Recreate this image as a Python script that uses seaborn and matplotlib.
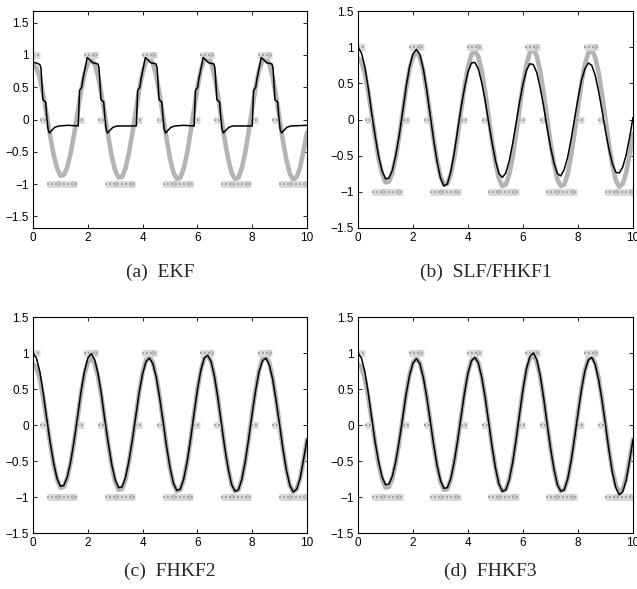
import matplotlib
matplotlib.use("Agg")
import matplotlib.pyplot as plt
import pandas as pd
import seaborn as sns

sns.set_theme(style="ticks")
plt.rcParams["font.family"] = ["Liberation Sans", "DejaVu Sans"]
plt.rcParams["axes.edgecolor"] = "black"
plt.rcParams["axes.linewidth"] = 0.8

# sample times for the smooth curves
T_GRID = [0.0, 0.125, 0.25, 0.375, 0.5, 0.625, 0.75, 0.875, 1.0, 1.125, 1.25, 1.375, 1.5,
          1.625, 1.75, 1.875, 2.0, 2.125, 2.25, 2.375, 2.5, 2.625, 2.75, 2.875, 3.0, 3.125,
          3.25, 3.375, 3.5, 3.625, 3.75, 3.875, 4.0, 4.125, 4.25, 4.375, 4.5, 4.625, 4.75,
          4.875, 5.0, 5.125, 5.25, 5.375, 5.5, 5.625, 5.75, 5.875, 6.0, 6.125, 6.25, 6.375,
          6.5, 6.625, 6.75, 6.875, 7.0, 7.125, 7.25, 7.375, 7.5, 7.625, 7.75, 7.875, 8.0,
          8.125, 8.25, 8.375, 8.5, 8.625, 8.75, 8.875, 9.0, 9.125, 9.25, 9.375, 9.5, 9.625,
          9.75, 9.875, 10.0]

# true state (thick grey line)
TRUE_Y = [0.85, 0.80, 0.64, 0.38, 0.07,
          -0.25, -0.54, -0.75, -0.87, -0.86, -0.74, -0.52, -0.23,
          0.10, 0.43, 0.70, 0.87, 0.93, 0.86, 0.67, 0.39, 0.06,
          -0.27, -0.57, -0.79, -0.90, -0.89, -0.76, -0.52, -0.22,
          0.12, 0.46, 0.73, 0.90, 0.95, 0.87, 0.67, 0.38, 0.04,
          -0.30, -0.60, -0.82, -0.92, -0.90, -0.76, -0.52, -0.20,
          0.15, 0.49, 0.76, 0.93, 0.97, 0.88, 0.67, 0.37, 0.02,
          -0.32, -0.61, -0.83, -0.92, -0.90, -0.75, -0.50, -0.18,
          0.17, 0.50, 0.76, 0.92, 0.96, 0.86, 0.65, 0.35, 0.00,
          -0.34, -0.63, -0.84, -0.93, -0.89, -0.74, -0.48, -0.20]

# estimates
SLF_Y = [1.00, 0.92, 0.73, 0.43, 0.08,
         -0.23, -0.51, -0.71, -0.82, -0.81, -0.70, -0.49, -0.22,
         0.11, 0.45, 0.73, 0.91, 0.97, 0.90, 0.70, 0.41, 0.06,
         -0.28, -0.58, -0.81, -0.92, -0.89, -0.72, -0.46, -0.14,
         0.17, 0.44, 0.66, 0.78, 0.79, 0.70, 0.51, 0.26, -0.04,
         -0.32, -0.57, -0.75, -0.80, -0.74, -0.57, -0.33, -0.05,
         0.24, 0.49, 0.68, 0.77, 0.76, 0.65, 0.44, 0.18, -0.11,
         -0.38, -0.60, -0.75, -0.78, -0.69, -0.52, -0.27, 0.01,
         0.29, 0.54, 0.70, 0.78, 0.75, 0.61, 0.39, 0.12, -0.16,
         -0.41, -0.61, -0.73, -0.74, -0.66, -0.49, -0.25, 0.03]

FHKF2_Y = [1.00, 0.93, 0.74, 0.44, 0.09,
           -0.24, -0.52, -0.74, -0.85, -0.84, -0.72, -0.51, -0.22,
           0.11, 0.46, 0.74, 0.93, 0.99, 0.91, 0.71, 0.42, 0.06,
           -0.26, -0.55, -0.76, -0.87, -0.86, -0.73, -0.50, -0.21,
           0.12, 0.45, 0.71, 0.88, 0.93, 0.85, 0.66, 0.37, 0.04,
           -0.30, -0.59, -0.81, -0.91, -0.89, -0.75, -0.51, -0.20,
           0.15, 0.49, 0.76, 0.93, 0.97, 0.88, 0.67, 0.37, 0.02,
           -0.32, -0.61, -0.83, -0.92, -0.90, -0.75, -0.50, -0.18,
           0.16, 0.48, 0.74, 0.89, 0.93, 0.83, 0.63, 0.33, 0.00,
           -0.34, -0.63, -0.84, -0.93, -0.89, -0.74, -0.48, -0.20]

FHKF3_Y = [1.00, 0.93, 0.74, 0.44, 0.09,
           -0.24, -0.51, -0.72, -0.83, -0.82, -0.71, -0.50, -0.22,
           0.10, 0.43, 0.69, 0.86, 0.92, 0.85, 0.66, 0.39, 0.06,
           -0.27, -0.56, -0.77, -0.88, -0.87, -0.74, -0.51, -0.21,
           0.12, 0.45, 0.72, 0.89, 0.94, 0.86, 0.66, 0.38, 0.04,
           -0.30, -0.60, -0.82, -0.92, -0.90, -0.76, -0.52, -0.20,
           0.15, 0.50, 0.78, 0.95, 1.00, 0.91, 0.69, 0.38, 0.02,
           -0.32, -0.61, -0.83, -0.92, -0.90, -0.75, -0.50, -0.18,
           0.16, 0.49, 0.75, 0.90, 0.94, 0.84, 0.63, 0.34, 0.00,
           -0.35, -0.66, -0.87, -0.97, -0.93, -0.77, -0.50, -0.20]

# EKF estimate is stair-like, so it has its own breakpoints
EKF_T = [0.0, 0.10, 0.20, 0.25, 0.29, 0.36, 0.46, 0.50, 0.55, 0.60, 0.68, 0.80, 0.95, 1.30,
         1.65, 1.70, 1.78, 1.82, 1.98, 2.06, 2.17, 2.37, 2.41, 2.48, 2.58, 2.62, 2.67, 2.72,
         2.80, 2.92, 3.07, 3.40,
         3.77, 3.82, 3.90, 3.94, 4.10, 4.18, 4.29, 4.49, 4.53, 4.60, 4.70, 4.74, 4.79, 4.84,
         4.92, 5.04, 5.19, 5.50,
         5.88, 5.93, 6.01, 6.05, 6.21, 6.29, 6.40, 6.60, 6.64, 6.71, 6.81, 6.85, 6.90, 6.95,
         7.03, 7.15, 7.30, 7.60,
         8.00, 8.05, 8.13, 8.17, 8.33, 8.41, 8.52, 8.72, 8.76, 8.83, 8.93, 8.97, 9.02, 9.07,
         9.15, 9.27, 9.42, 10.0]
EKF_Y = [0.88, 0.88, 0.86, 0.85, 0.80, 0.31, 0.27, 0.05, -0.15, -0.21, -0.17, -0.12, -0.10, -0.09,
         -0.10, 0.45, 0.50, 0.62, 0.96, 0.93, 0.88, 0.86, 0.80, 0.31, 0.27, 0.05, -0.15, -0.21,
         -0.17, -0.12, -0.10, -0.10,
         -0.10, 0.45, 0.50, 0.62, 0.96, 0.93, 0.88, 0.86, 0.80, 0.31, 0.27, 0.05, -0.15, -0.21,
         -0.17, -0.12, -0.10, -0.09,
         -0.10, 0.45, 0.50, 0.62, 0.96, 0.93, 0.88, 0.86, 0.80, 0.31, 0.27, 0.05, -0.15, -0.21,
         -0.17, -0.12, -0.10, -0.10,
         -0.10, 0.45, 0.50, 0.62, 0.96, 0.93, 0.88, 0.86, 0.80, 0.31, 0.27, 0.05, -0.15, -0.21,
         -0.17, -0.12, -0.10, -0.09]

# quantised measurements: level and time span of each cluster
MEAS_LEVEL = [1, 0, -1, 0, 1, 0, -1, 0, 1, 0, -1, 0, 1, 0, -1, 0, 1, 0, -1]
MEAS_START = [0.0, 0.27, 0.50, 1.62, 1.85, 2.39, 2.62, 3.74, 3.97, 4.51, 4.74, 5.85, 6.08,
              6.62, 6.85, 7.97, 8.20, 8.74, 8.97]
MEAS_END = [0.27, 0.50, 1.62, 1.85, 2.39, 2.62, 3.74, 3.97, 4.51, 4.74, 5.85, 6.08, 6.62,
            6.85, 7.97, 8.20, 8.74, 8.97, 10.0]

CAPTIONS = ["(a)  EKF", "(b)  SLF/FHKF1", "(c)  FHKF2", "(d)  FHKF3"]

W, H = 637, 589


def meas_frame():
    rows = []
    for i, (lvl, s, e) in enumerate(zip(MEAS_LEVEL, MEAS_START, MEAS_END)):
        rows.append({"seg": i, "t": s, "y": lvl})
        rows.append({"seg": i, "t": e, "y": lvl})
    return pd.DataFrame(rows)


def style_axes(ax, ylim):
    ax.set_xlim(0, 10)
    ax.set_ylim(-ylim, ylim)
    ax.set_xticks([0, 2, 4, 6, 8, 10])
    ax.set_xticklabels(["0", "2", "4", "6", "8", "10"])
    yt = [-1.5, -1, -0.5, 0, 0.5, 1, 1.5]
    ax.set_yticks(yt)
    ax.set_yticklabels(["\u22121.5", "\u22121", "\u22120.5", "0", "0.5", "1", "1.5"])
    ax.tick_params(direction="in", top=True, right=True, length=3, width=0.6,
                   labelsize=8.5, pad=3, colors="black")
    for sp in ax.spines.values():
        sp.set_visible(True)
        sp.set_color("black")
        sp.set_linewidth(0.8)
    ax.set_xlabel("")
    ax.set_ylabel("")
    ax.set_facecolor("white")


def panel(fig, rect, est_t, est_y, ylim, caption, cap_x, cap_y):
    ax = fig.add_axes(rect)
    mdf = meas_frame()
    sns.lineplot(x=T_GRID, y=TRUE_Y, ax=ax, color="#b4b4b4", lw=3.3,
                 sort=False, estimator=None)
    # noisy measurement clusters: pale band + speckle on top
    sns.lineplot(data=mdf, x="t", y="y", units="seg", estimator=None, ax=ax,
                 color="#dadada", lw=5.0, legend=False, solid_capstyle="butt")
    sns.lineplot(data=mdf, x="t", y="y", units="seg", estimator=None, ax=ax,
                 color="#a0a0a0", lw=1.6, legend=False, linestyle=(0, (0.8, 1.0)),
                 dash_capstyle="butt")
    sns.lineplot(data=mdf, x="t", y="y", units="seg", estimator=None, ax=ax,
                 color="#bdbdbd", lw=4.0, legend=False, linestyle=(0.9, (0.5, 2.2)),
                 dash_capstyle="butt", alpha=0.8)
    sns.lineplot(x=est_t, y=est_y, ax=ax, color="black", lw=1.1,
                 sort=False, estimator=None)
    style_axes(ax, ylim)
    fig.text(cap_x / W, 1 - cap_y / H, caption, ha="center", va="center",
             fontsize=14, family=["Liberation Serif", "DejaVu Serif"])
    return ax


def main():
    fig = plt.figure(figsize=(W / 100, H / 100), dpi=100)
    fig.patch.set_facecolor("white")

    def rect(l, r, t, b):
        return [l / W, 1 - b / H, (r - l) / W, (b - t) / H]

    panel(fig, rect(33, 307, 11, 228), EKF_T, EKF_Y, 1.68, CAPTIONS[0], 160, 272)
    panel(fig, rect(358, 633, 11, 228), T_GRID, SLF_Y, 1.5, CAPTIONS[1], 486, 272)
    panel(fig, rect(33, 307, 317, 533), T_GRID, FHKF2_Y, 1.5, CAPTIONS[2], 170, 571)
    panel(fig, rect(358, 633, 317, 533), T_GRID, FHKF3_Y, 1.5, CAPTIONS[3], 490, 571)

    fig.savefig("out.png", dpi=100)
    plt.close(fig)


if __name__ == "__main__":
    main()
